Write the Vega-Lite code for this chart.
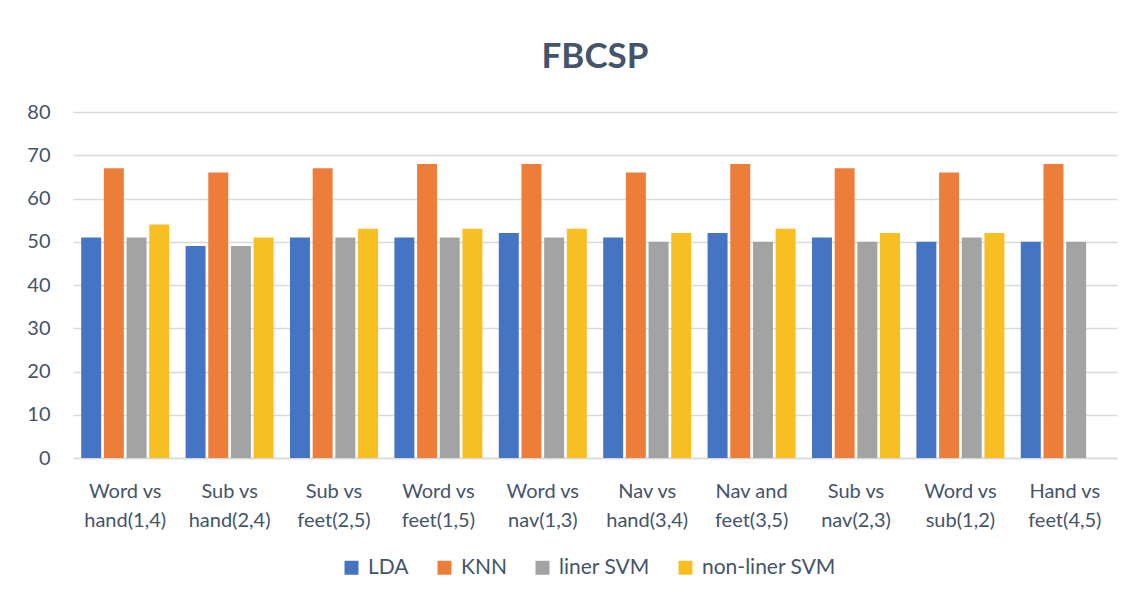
{
  "$schema": "https://vega.github.io/schema/vega-lite/v6.json",
  "autosize": {"type": "fit", "contains": "padding"},
  "width": 1138,
  "height": 604,
  "padding": {"left": 26, "top": 40, "right": 21, "bottom": 74},
  "background": "white",
  "title": {
    "text": "FBCSP",
    "font": "Lato",
    "fontSize": 35,
    "fontWeight": "bold",
    "color": "#44546A",
    "anchor": "middle",
    "offset": 27
  },
  "data": {
    "values": [
      {"pair": "Word vs hand(1,4)", "series": "LDA", "value": 51},
      {"pair": "Word vs hand(1,4)", "series": "KNN", "value": 67},
      {"pair": "Word vs hand(1,4)", "series": "liner SVM", "value": 51},
      {"pair": "Word vs hand(1,4)", "series": "non-liner SVM", "value": 54},
      {"pair": "Sub vs hand(2,4)", "series": "LDA", "value": 49},
      {"pair": "Sub vs hand(2,4)", "series": "KNN", "value": 66},
      {"pair": "Sub vs hand(2,4)", "series": "liner SVM", "value": 49},
      {"pair": "Sub vs hand(2,4)", "series": "non-liner SVM", "value": 51},
      {"pair": "Sub vs feet(2,5)", "series": "LDA", "value": 51},
      {"pair": "Sub vs feet(2,5)", "series": "KNN", "value": 67},
      {"pair": "Sub vs feet(2,5)", "series": "liner SVM", "value": 51},
      {"pair": "Sub vs feet(2,5)", "series": "non-liner SVM", "value": 53},
      {"pair": "Word vs feet(1,5)", "series": "LDA", "value": 51},
      {"pair": "Word vs feet(1,5)", "series": "KNN", "value": 68},
      {"pair": "Word vs feet(1,5)", "series": "liner SVM", "value": 51},
      {"pair": "Word vs feet(1,5)", "series": "non-liner SVM", "value": 53},
      {"pair": "Word vs nav(1,3)", "series": "LDA", "value": 52},
      {"pair": "Word vs nav(1,3)", "series": "KNN", "value": 68},
      {"pair": "Word vs nav(1,3)", "series": "liner SVM", "value": 51},
      {"pair": "Word vs nav(1,3)", "series": "non-liner SVM", "value": 53},
      {"pair": "Nav vs hand(3,4)", "series": "LDA", "value": 51},
      {"pair": "Nav vs hand(3,4)", "series": "KNN", "value": 66},
      {"pair": "Nav vs hand(3,4)", "series": "liner SVM", "value": 50},
      {"pair": "Nav vs hand(3,4)", "series": "non-liner SVM", "value": 52},
      {"pair": "Nav and feet(3,5)", "series": "LDA", "value": 52},
      {"pair": "Nav and feet(3,5)", "series": "KNN", "value": 68},
      {"pair": "Nav and feet(3,5)", "series": "liner SVM", "value": 50},
      {"pair": "Nav and feet(3,5)", "series": "non-liner SVM", "value": 53},
      {"pair": "Sub vs nav(2,3)", "series": "LDA", "value": 51},
      {"pair": "Sub vs nav(2,3)", "series": "KNN", "value": 67},
      {"pair": "Sub vs nav(2,3)", "series": "liner SVM", "value": 50},
      {"pair": "Sub vs nav(2,3)", "series": "non-liner SVM", "value": 52},
      {"pair": "Word vs sub(1,2)", "series": "LDA", "value": 50},
      {"pair": "Word vs sub(1,2)", "series": "KNN", "value": 66},
      {"pair": "Word vs sub(1,2)", "series": "liner SVM", "value": 51},
      {"pair": "Word vs sub(1,2)", "series": "non-liner SVM", "value": 52},
      {"pair": "Hand vs feet(4,5)", "series": "LDA", "value": 50},
      {"pair": "Hand vs feet(4,5)", "series": "KNN", "value": 68},
      {"pair": "Hand vs feet(4,5)", "series": "liner SVM", "value": 50}
    ]
  },
  "mark": {"type": "bar"},
  "encoding": {
    "x": {
      "field": "pair",
      "type": "nominal",
      "sort": null,
      "scale": {"paddingInner": 0.157, "paddingOuter": 0.0785},
      "axis": {
        "title": null,
        "labelAngle": 0,
        "labelFont": "Lato",
        "labelFontSize": 20,
        "labelColor": "#44546A",
        "labelPadding": 23,
        "labelLineHeight": 29,
        "labelExpr": "[substring(datum.value,0,lastindexof(datum.value,' ')), substring(datum.value,lastindexof(datum.value,' ')+1)]",
        "ticks": false,
        "domainColor": "#D9D9D9",
        "domainWidth": 1.5,
        "grid": false
      }
    },
    "xOffset": {
      "field": "series",
      "type": "nominal",
      "scale": {"domain": ["LDA", "KNN", "liner SVM", "non-liner SVM"], "paddingInner": 0.12}
    },
    "y": {
      "field": "value",
      "type": "quantitative",
      "scale": {"domain": [0, 80]},
      "axis": {
        "title": null,
        "values": [0, 10, 20, 30, 40, 50, 60, 70, 80],
        "domain": false,
        "ticks": false,
        "labelFont": "Lato",
        "labelFontSize": 20,
        "labelColor": "#44546A",
        "labelPadding": 23,
        "gridColor": "#D9D9D9",
        "gridWidth": 1.5
      }
    },
    "color": {
      "field": "series",
      "type": "nominal",
      "scale": {
        "domain": ["LDA", "KNN", "liner SVM", "non-liner SVM"],
        "range": ["#4674C4", "#EC7E3A", "#A3A3A3", "#F8BF22"]
      },
      "legend": {
        "title": null,
        "orient": "none",
        "direction": "horizontal",
        "legendX": 268,
        "legendY": 445,
        "symbolType": "square",
        "symbolSize": 196,
        "labelFont": "Lato",
        "labelFontSize": 21,
        "labelColor": "#44546A",
        "labelOffset": 6,
        "columnPadding": 25
      }
    }
  },
  "config": {
    "view": {"stroke": null}
  }
}
